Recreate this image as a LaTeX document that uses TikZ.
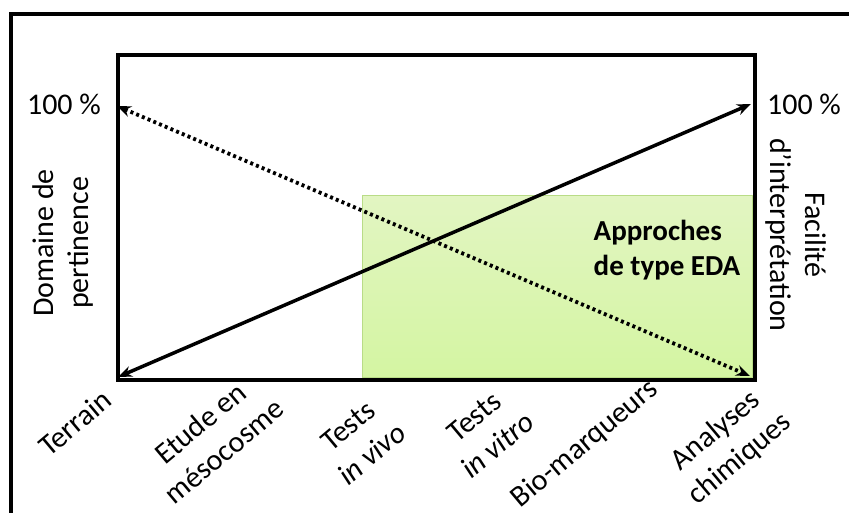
\documentclass[tikz,border=0pt]{standalone}
\usepackage{fontspec}
\setmainfont{Carlito}
\usetikzlibrary{arrows.meta,shadows}
\definecolor{edatop}{RGB}{226,245,194}
\definecolor{edabot}{RGB}{212,245,162}
\definecolor{edaborder}{RGB}{185,220,135}
\begin{document}
\begin{tikzpicture}[x=1pt,y=-1pt,
  lbl/.style={font=\fontsize{30}{37}\selectfont, inner sep=0pt, align=center},
  xlbl/.style={lbl, rotate=40},
  sidelbl/.style={lbl, font=\fontsize{30}{35}\selectfont},
  solidarrow/.style={line width=3.5pt, {Stealth[length=14pt,width=11pt]}-{Stealth[length=14pt,width=11pt]}},
  dotarrow/.style={line width=3.8pt, dash pattern=on 3pt off 3.2pt, {Stealth[length=14pt,width=11pt]}-{Stealth[length=14pt,width=11pt]}},
  framebox/.style={draw, line width=4pt, inner sep=0pt},
  edabox/.style={draw=edaborder, line width=1pt, top color=edatop, bottom color=edabot, inner sep=0pt,
     drop shadow={opacity=0.25, shadow xshift=2pt, shadow yshift=-2pt}}
]
\useasboundingbox (0,0) rectangle (849,513);
% outer partial frame
\coordinate (otl) at (10.5,14.5);
\coordinate (obl) at (10.5,513);
\coordinate (otr) at (849,14.5);
\draw[line width=4pt] (obl) -- (otl) -- (otr);

% green EDA zone
\node[edabox, minimum width=390pt, minimum height=182pt, anchor=south west] (eda) at (362,378) {};

% main frame
\node[framebox, minimum width=637pt, minimum height=325pt, anchor=north west] (frame) at (116,53) {};

% arrows
\coordinate (lefttop) at (117,106);
\coordinate (righttop) at (751,104);
\coordinate (leftbot) at (118,377);
\coordinate (rightbot) at (750,376);
\draw[solidarrow] (leftbot) -- (righttop);
\draw[dotarrow] (lefttop) -- (rightbot);

% percentages
\node[lbl] (pl) at (64,104) {100 \%};
\node[lbl] (pr) at (804,104) {100 \%};

% side labels
\node[sidelbl, rotate=90] (dom) at (63,243) {Domaine de\\pertinence};
\node[sidelbl, rotate=-90] (fac) at (796,235) {Facilité\\d’interprétation};

% EDA text
\node[lbl, align=left, font=\bfseries\fontsize{29}{35}\selectfont] (edatxt) at (667,250) {Approches\\de type EDA};

% x-axis labels
\node[xlbl] (terrain) at (75,423) {Terrain};
\node[xlbl] (meso) at (212,437) {Etude en\\mésocosme};
\node[xlbl] (vivo) at (360,440) {Tests\\\textit{in vivo}};
\node[xlbl] (vitro) at (486,431) {Tests\\\textit{in vitro}};
\node[xlbl] (bio) at (585,444) {Bio-marqueurs};
\node[xlbl] (chim) at (728,445) {Analyses\\chimiques};
\end{tikzpicture}
\end{document}
